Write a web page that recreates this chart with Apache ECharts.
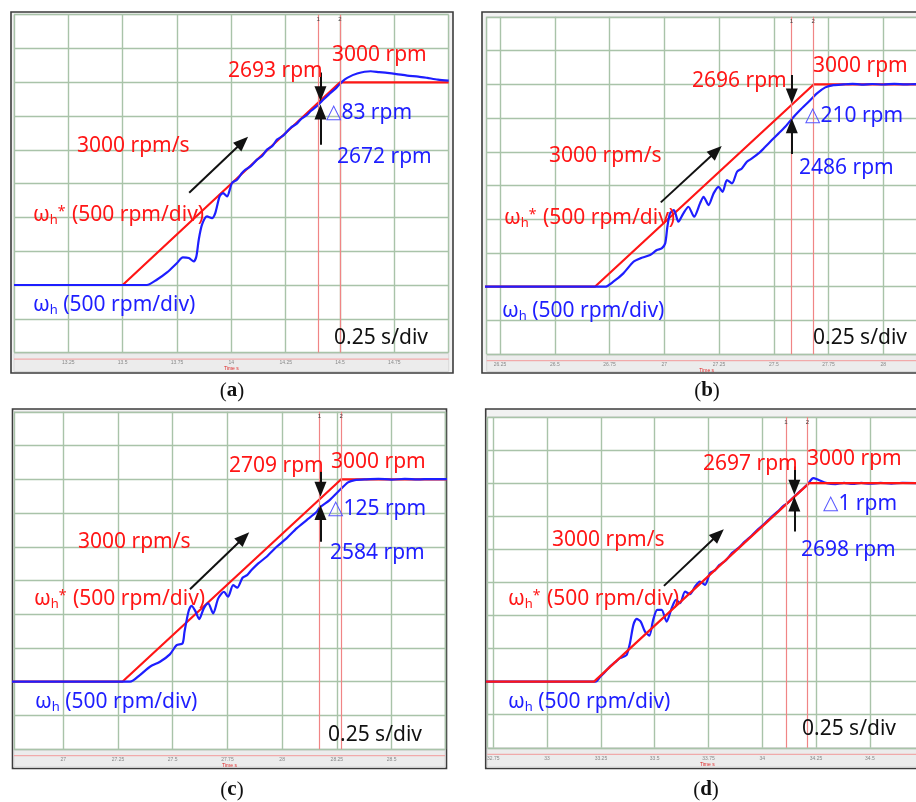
<!DOCTYPE html>
<html>
<head>
<meta charset="utf-8">
<title>Speed ramp response</title>
<script src="https://cdn.jsdelivr.net/npm/echarts@6/dist/echarts.min.js"></script>
<style>
  html, body { margin: 0; padding: 0; background: #fff; }
  #chart { width: 916px; height: 802px; }
</style>
</head>
<body>
<div id="chart"></div>
<script>
// ---- data: time in s, speed in rpm ----
// (a)
const refA = [[13, 0], [13.5, 0], [14.5, 3000], [15, 3000]];
const speedA = [[13, 0], [13.611, 0], [13.657, 78], [13.704, 186], [13.75, 325], [13.777, 408], [13.804, 399],
  [13.827, 350], [13.839, 423], [13.85, 670], [13.865, 892], [13.888, 1015], [13.911, 991], [13.926, 1065],
  [13.946, 1311], [13.962, 1361], [13.98, 1311], [14.003, 1510], [14.026, 1559], [14.049, 1658], [14.065, 1707],
  [14.088, 1756], [14.118, 1855], [14.14, 1905], [14.164, 2003], [14.19, 2060], [14.21, 2151], [14.24, 2215],
  [14.272, 2324], [14.3, 2385], [14.318, 2447], [14.345, 2510], [14.364, 2571], [14.385, 2625], [14.402, 2672],
  [14.425, 2748], [14.448, 2818], [14.47, 2880], [14.487, 2932], [14.51, 3010], [14.533, 3065], [14.579, 3129],
  [14.641, 3163], [14.68, 3150], [14.717, 3139], [14.76, 3122], [14.809, 3099], [14.86, 3084], [14.901, 3065],
  [14.95, 3040], [15, 3025]];
const cursorsA = [14.402, 14.5];
const arrowsA = [[[14.41, 3143], [14.41, 2830]], [[14.41, 2077], [14.41, 2560]], [[13.806, 1366], [14.052, 2117]]];

// (b)
const refB = [[26.1, 0], [26.683, 0], [27.683, 3000], [28.3, 3000]];
const speedB = [[26.1, 0], [26.729, 0], [26.767, 74], [26.813, 198], [26.859, 370], [26.89, 420], [26.935, 469],
  [26.966, 543], [26.988, 568], [27.004, 642], [27.014, 889], [27.026, 1087], [27.044, 1136], [27.064, 963],
  [27.087, 1087], [27.11, 1185], [27.136, 1037], [27.163, 1235], [27.179, 1333], [27.202, 1210], [27.225, 1383],
  [27.247, 1481], [27.266, 1407], [27.286, 1580], [27.309, 1531], [27.332, 1704], [27.354, 1753], [27.377, 1852],
  [27.4, 1901], [27.43, 1975], [27.461, 2074], [27.491, 2173], [27.522, 2272], [27.552, 2370], [27.582, 2486],
  [27.62, 2618], [27.659, 2741], [27.697, 2865], [27.735, 2954], [27.773, 2988], [27.818, 2998], [27.86, 3006],
  [27.9, 2996], [27.95, 3004], [28, 2997], [28.05, 3005], [28.1, 2998], [28.15, 3003], [28.3, 3000]];
const cursorsB = [27.582, 27.681];
const arrowsB = [[[27.582, 3136], [27.582, 2828]], [[27.582, 1966], [27.582, 2384]], [[26.984, 1250], [27.237, 2009]]];

// (c)
const refC = [[26.7, 0], [27.27, 0], [28.27, 3000], [28.8, 3000]];
const speedC = [[26.7, 0], [27.305, 0], [27.35, 99], [27.396, 222], [27.442, 296], [27.487, 405], [27.518, 543],
  [27.545, 568], [27.554, 741], [27.572, 1037], [27.586, 1126], [27.603, 1050], [27.621, 929], [27.642, 1087],
  [27.662, 1161], [27.685, 1013], [27.708, 1235], [27.734, 1333], [27.753, 1259], [27.776, 1432], [27.795, 1393],
  [27.819, 1541], [27.84, 1580], [27.86, 1654], [27.891, 1753], [27.929, 1852], [27.975, 2000], [28.02, 2124],
  [28.066, 2272], [28.112, 2395], [28.158, 2519], [28.172, 2584], [28.217, 2692], [28.263, 2840], [28.301, 2954],
  [28.332, 2988], [28.385, 3000], [28.44, 3006], [28.5, 2996], [28.56, 3005], [28.62, 2998], [28.68, 3004],
  [28.8, 3000]];
const cursorsC = [28.172, 28.271];
const arrowsC = [[[28.175, 3118], [28.175, 2852]], [[28.175, 2074], [28.175, 2507]], [[27.579, 1369], [27.825, 2137]]];

// (d)
const refD = [[32.7, 0], [33.218, 0], [34.218, 3000], [34.8, 3000]];
const speedD = [[32.7, 0], [33.225, 0], [33.246, 70], [33.27, 150], [33.292, 227], [33.315, 290], [33.339, 354],
  [33.36, 385], [33.37, 404], [33.385, 580], [33.401, 857], [33.416, 948], [33.435, 907], [33.455, 756],
  [33.475, 695], [33.493, 933], [33.512, 1084], [33.532, 1084], [33.555, 907], [33.579, 1110], [33.599, 1235],
  [33.618, 1185], [33.641, 1361], [33.664, 1321], [33.687, 1436], [33.71, 1512], [33.734, 1462], [33.757, 1639],
  [33.78, 1680], [33.8, 1760], [33.83, 1830], [33.86, 1945], [33.89, 2020], [33.92, 2120], [33.95, 2205],
  [33.98, 2300], [34.01, 2385], [34.04, 2480], [34.07, 2565], [34.1, 2660], [34.117, 2698], [34.15, 2800],
  [34.18, 2890], [34.21, 2980], [34.237, 3075], [34.26, 3050], [34.3, 3000], [34.34, 2985], [34.38, 3004],
  [34.42, 2988], [34.46, 3003], [34.5, 2990], [34.55, 3002], [34.6, 2992], [34.65, 3003], [34.8, 2995]];
const cursorsD = [34.11, 34.211];
const arrowsD = [[[34.149, 3251], [34.149, 2936]], [[34.149, 2268], [34.149, 2684]], [[33.543, 1447], [33.796, 2226]]];

// ---- styles ----
const RED = "#ff1616";
const BLUE = "#1e1eff";
const GRID_COLOR = "#a9c3a9";
const FONT = "'Noto Sans', 'DejaVu Sans', sans-serif";

// layout of each scope screenshot (pixels)
const panels = [
  {
    tag: "a", ref: refA, speed: speedA, cursors: cursorsA, arrows: arrowsA, refOnTop: false,
    frame: [11, 12, 442, 361], grid: [14, 14.7, 434.7, 337.9], xRange: [13, 15],
    caption: [232, 391],
    texts: [["2693 rpm", RED, 228, 71], ["3000 rpm", RED, 332, 55], ["△83 rpm", BLUE, 326, 113],
      ["2672 rpm", BLUE, 337, 157], ["3000 rpm/s", RED, 77, 146], ["0.25 s/div", "#111", 334, 338]],
    omegaRef: [33, 215], omegaFb: [33, 305],
  },
  {
    tag: "b", ref: refB, speed: speedB, cursors: cursorsB, arrows: arrowsB, refOnTop: false,
    frame: [482, 12, 450, 361], grid: [486.7, 16.8, 440, 337.4], xRange: [26.189, 28.198],
    caption: [707, 391],
    texts: [["2696 rpm", RED, 692, 81], ["3000 rpm", RED, 813, 66], ["△210 rpm", BLUE, 805, 116],
      ["2486 rpm", BLUE, 799, 168], ["3000 rpm/s", RED, 549, 156], ["0.25 s/div", "#111", 813, 338]],
    omegaRef: [504, 218], omegaFb: [502, 311],
  },
  {
    tag: "c", ref: refC, speed: speedC, cursors: cursorsC, arrows: arrowsC, refOnTop: false,
    frame: [12.5, 409, 434, 359.5], grid: [14, 411.8, 431, 337.4], xRange: [26.775, 28.744],
    caption: [232, 790],
    texts: [["2709 rpm", RED, 229, 466], ["3000 rpm", RED, 331, 462], ["△125 rpm", BLUE, 328, 509],
      ["2584 rpm", BLUE, 330, 553], ["3000 rpm/s", RED, 78, 542], ["0.25 s/div", "#111", 328, 735]],
    omegaRef: [34, 599], omegaFb: [35, 702],
  },
  {
    tag: "d", ref: refD, speed: speedD, cursors: cursorsD, arrows: arrowsD, refOnTop: true,
    frame: [485.7, 409, 450, 359.5], grid: [487.3, 416.9, 440, 330.9], xRange: [32.722, 34.767],
    caption: [706, 790],
    texts: [["2697 rpm", RED, 703, 464], ["3000 rpm", RED, 807, 459], ["△1 rpm", BLUE, 823, 504],
      ["2698 rpm", BLUE, 801, 550], ["3000 rpm/s", RED, 552, 540], ["0.25 s/div", "#111", 802, 729]],
    omegaRef: [508, 599], omegaFb: [508, 702],
  },
];

// rich text styles (subscript h, superscript *)
const richFor = (color) => ({
  n: { fontSize: 21, fontFamily: FONT, fill: color, lineHeight: 24 },
  tri: { fontSize: 20, fontFamily: "'DejaVu Sans', sans-serif", fill: "#5a5aff", lineHeight: 24 },
  sub: { fontSize: 13, fontFamily: FONT, fill: color, lineHeight: 13, verticalAlign: "bottom" },
  sup: { fontSize: 14, fontFamily: FONT, fill: color, lineHeight: 14, verticalAlign: "top", padding: [2, 1, 0, 0] },
});

const textEl = (text, color, x, y) => ({
  type: "text", x: x, y: y, z: 100, silent: true,
  style: { text: text, rich: richFor(color), fill: color, fontSize: 21, fontFamily: FONT, align: "left", verticalAlign: "middle" },
});

const option = { animation: false, backgroundColor: "#fff", grid: [], xAxis: [], yAxis: [], series: [], graphic: [] };

panels.forEach((p, i) => {
  const [gl, gt, gw, gh] = p.grid;
  const [fx, fy, fw, fh] = p.frame;
  option.grid.push({
    left: gl, top: gt, width: gw, height: gh, outerBoundsMode: "none",
    show: true, backgroundColor: "#fff", borderColor: "#d2d2d2", borderWidth: 1,
  });
  option.xAxis.push({
    type: "value", gridIndex: i, min: p.xRange[0], max: p.xRange[1],
    minInterval: 0.25, maxInterval: 0.25,
    axisLine: { show: false }, axisTick: { show: false },
    axisLabel: { fontSize: 5, color: "#888", margin: 8, showMinLabel: false, showMaxLabel: false },
    splitLine: { lineStyle: { color: GRID_COLOR, width: 1.4 } },
    name: "Time s", nameLocation: "middle", nameGap: 14,
    nameTextStyle: { fontSize: 5, color: "#e02a2a" },
  });
  option.yAxis.push({
    type: "value", gridIndex: i, min: -1000, max: 4000, interval: 500,
    axisLine: { show: false }, axisTick: { show: false }, axisLabel: { show: false },
    splitLine: { lineStyle: { color: GRID_COLOR, width: 1.4 } },
  });

  // cursor lines (behind the traces)
  option.series.push({
    type: "line", xAxisIndex: i, yAxisIndex: i, data: [], z: 1, silent: true,
    markLine: {
      silent: true, symbol: ["none", "none"], animation: false,
      lineStyle: { color: "#f08585", width: 1.2, type: "solid" },
      data: p.cursors.map((c, k) => ({
        xAxis: c,
        label: { show: true, formatter: String(k + 1), position: "end", distance: -8, fontSize: 6, color: "#444" },
      })),
    },
  });

  const refSeries = {
    type: "line", xAxisIndex: i, yAxisIndex: i, data: p.ref, symbol: "none",
    lineStyle: { color: RED, width: 2.2 }, z: p.refOnTop ? 4 : 2,
  };
  const speedSeries = {
    type: "line", xAxisIndex: i, yAxisIndex: i, data: p.speed, symbol: "none", smooth: 0.25,
    lineStyle: { color: BLUE, width: 2.2 }, z: p.refOnTop ? 2 : 3,
  };
  option.series.push(refSeries, speedSeries);

  // black arrows on top
  option.series.push({
    type: "line", xAxisIndex: i, yAxisIndex: i, data: [], z: 10, silent: true,
    markLine: {
      silent: true, animation: false, label: { show: false },
      lineStyle: { color: "#111", width: 2, type: "solid" },
      data: p.arrows.map((a) => [
        { coord: a[0], symbol: "none" },
        { coord: a[1], symbol: "triangle", symbolSize: [12, 15] },
      ]),
    },
  });

  // frame, bottom time strip
  option.graphic.push(
    { type: "rect", z: -10, silent: true, shape: { x: fx, y: fy, width: fw, height: fh },
      style: { fill: "#f2f2f2", stroke: "#3c3c3c", lineWidth: 1.6 } },
    { type: "rect", z: -5, silent: true, shape: { x: gl, y: gt + gh + 1, width: gw, height: fy + fh - gt - gh - 2.5 },
      style: { fill: "#ececec", stroke: "#d8d8d8", lineWidth: 1 } },
    { type: "line", z: 5, silent: true, shape: { x1: gl, y1: gt + gh + 6.5, x2: gl + gw, y2: gt + gh + 6.5 },
      style: { stroke: "#f29a9a", lineWidth: 1 } }
  );

  p.texts.forEach(([t, c, x, y]) => {
    const txt = t.startsWith("△") ? "{tri|△}{n|" + t.slice(1) + "}" : "{n|" + t + "}";
    option.graphic.push(textEl(txt, c, x, y));
  });
  option.graphic.push(textEl("{n|ω}{sub|h}{sup|*}{n| (500 rpm/div)}", RED, p.omegaRef[0], p.omegaRef[1]));
  option.graphic.push(textEl("{n|ω}{sub|h}{n| (500 rpm/div)}", BLUE, p.omegaFb[0], p.omegaFb[1]));

  // caption (a) .. (d)
  option.graphic.push({
    type: "text", x: p.caption[0], y: p.caption[1], z: 100, silent: true,
    style: {
      text: "{p|(}{b|" + p.tag + "}{p|)}", align: "center", verticalAlign: "middle",
      rich: {
        p: { fontSize: 21, fontFamily: "'Liberation Serif', serif", fill: "#111" },
        b: { fontSize: 21, fontFamily: "'Liberation Serif', serif", fontWeight: "bold", fill: "#111" },
      },
    },
  });
});

const chart = echarts.init(document.getElementById("chart"));
chart.setOption(option);
window.addEventListener("resize", () => chart.resize());
</script>
</body>
</html>
